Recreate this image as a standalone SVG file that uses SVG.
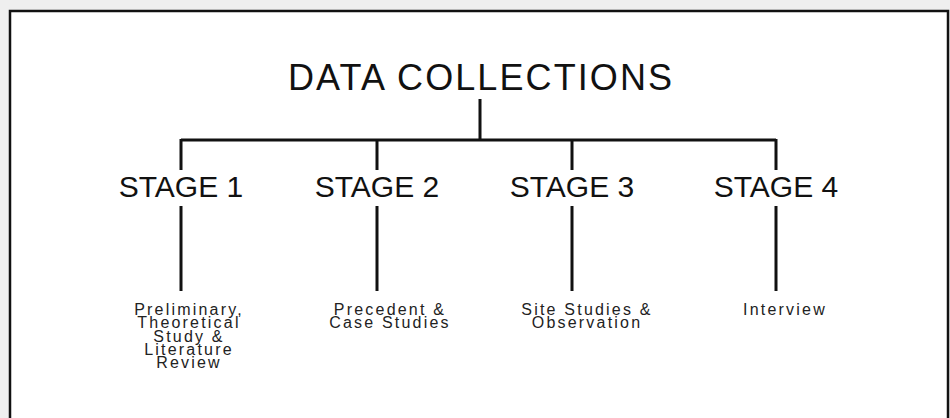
<svg xmlns="http://www.w3.org/2000/svg" width="950" height="418" viewBox="0 0 950 418">
<style>
.title{font-family:"Liberation Sans",Arial,sans-serif;font-size:36px;fill:#111;text-anchor:middle}
.stage{font-family:"Liberation Sans",Arial,sans-serif;font-size:30px;fill:#111;text-anchor:middle}
.desc{font-family:"Liberation Sans",Arial,sans-serif;font-size:16px;fill:#222;text-anchor:middle;letter-spacing:2.2px}
.ln{stroke:#111;stroke-width:3;fill:none}
</style>
<rect x="0" y="0" width="950" height="418" fill="#efefef"/>
<rect x="10" y="11" width="938" height="420" fill="#fff" stroke="#111" stroke-width="2.5"/>
<g id="connectors">
<path class="ln" d="M480 99V140M181 140H776M181 139V170M377 139V170M572 139V170M776 139V170"/>
<path class="ln" d="M181 206V291M377 206V291M572 206V291M776 206V291"/>
</g>
<g id="title"><text class="title" x="480" y="90" textLength="384" lengthAdjust="spacing">DATA COLLECTIONS</text></g>
<g id="stage1"><text class="stage" x="181" y="197">STAGE 1</text></g>
<g id="stage2"><text class="stage" x="377" y="197">STAGE 2</text></g>
<g id="stage3"><text class="stage" x="572" y="197">STAGE 3</text></g>
<g id="stage4"><text class="stage" x="776" y="197">STAGE 4</text></g>
<g id="desc1"><text class="desc" x="189" y="315">Preliminary,<tspan x="189" dy="13.3">Theoretical</tspan><tspan x="189" dy="13.3">Study &amp;</tspan><tspan x="189" dy="13.3">Literature</tspan><tspan x="189" dy="13.3">Review</tspan></text></g>
<g id="desc2"><text class="desc" x="390" y="315">Precedent &amp;<tspan x="390" dy="13.3">Case Studies</tspan></text></g>
<g id="desc3"><text class="desc" x="587" y="315">Site Studies &amp;<tspan x="587" dy="13.3">Observation</tspan></text></g>
<g id="desc4"><text class="desc" x="785" y="315">Interview</text></g>
</svg>
